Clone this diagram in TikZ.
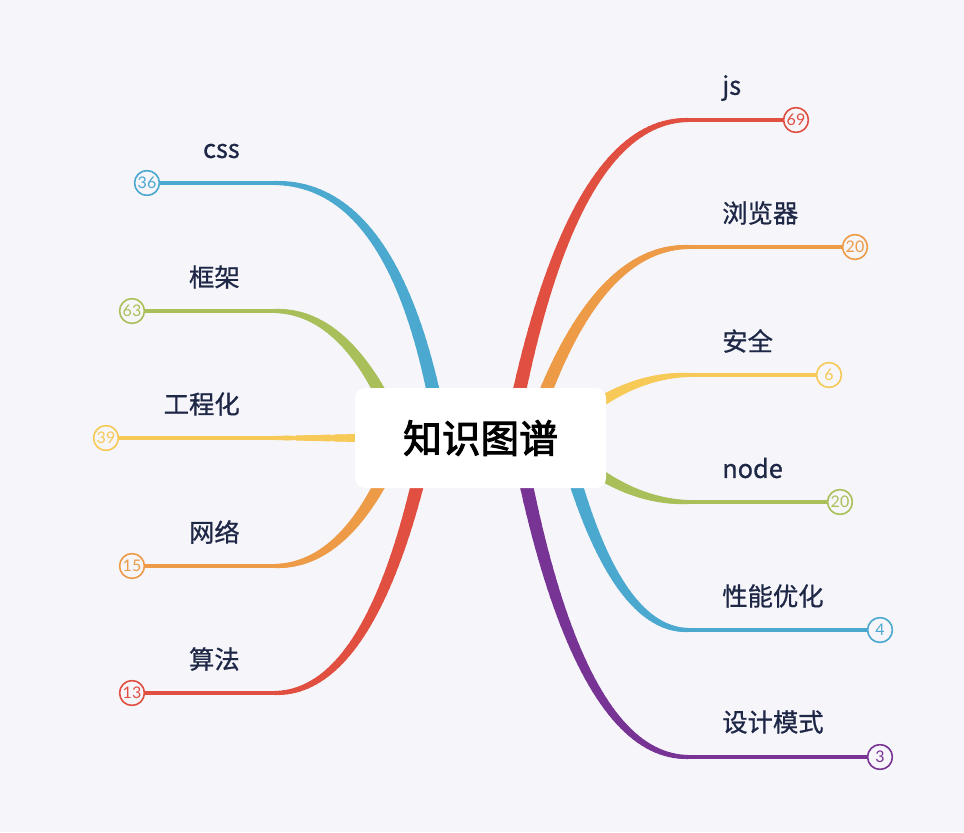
\documentclass[tikz,border=0pt]{standalone}
\usepackage{fontspec}
\setmainfont{Noto Sans CJK SC}
\newfontfamily\numfont{Lato}
\newfontfamily\lblfont{Noto Sans CJK SC}[FakeBold=0.8]
\newfontfamily\rootfont{Noto Sans CJK SC}[FakeBold=2.6]
\usetikzlibrary{calc}
\definecolor{bg}{HTML}{F5F5FA}
\definecolor{cred}{HTML}{E14F41}
\definecolor{corange}{HTML}{EE9B47}
\definecolor{cyellow}{HTML}{F7C957}
\definecolor{cgreen}{HTML}{A9C05A}
\definecolor{cblue}{HTML}{4BA8CF}
\definecolor{cpurple}{HTML}{783494}
\definecolor{labelc}{HTML}{1E2745}
\tikzset{
  lbl/.style={text=labelc, font=\lblfont\fontsize{19}{22}\selectfont, inner sep=0pt},
  numc/.style={circle, draw=#1, fill=bg, line width=1.1pt, minimum size=18.5pt,
    inner sep=0pt, text=#1, font=\numfont\fontsize{12}{14}\selectfont},
  thinline/.style={draw=#1, line width=2.4pt},
  rootbox/.style={fill=white, rounded corners=7.5pt, minimum width=188.25pt,
    minimum height=75pt, inner sep=0pt, font=\rootfont\fontsize{29}{32}\selectfont}
}
\newcommand{\taper}[2]{%
  \foreach \i in {0,...,47}{%
    \pgfmathsetmacro\ta{\i/48}%
    \pgfmathsetmacro\tb{(\i+1)/48}%
    \pgfmathsetmacro\fa{(1-\ta)^2}%
    \pgfmathsetmacro\fb{2*\ta*(1-\ta)}%
    \pgfmathsetmacro\fc{\ta^2}%
    \pgfmathsetmacro\ga{(1-\tb)^2}%
    \pgfmathsetmacro\gb{2*\tb*(1-\tb)}%
    \pgfmathsetmacro\gc{\tb^2}%
    \pgfmathsetmacro\w{(14-10*(\i+0.5)/48)*0.75}%
    \draw[#2, line width=\w pt, line cap=round]
      ($\fa*(#1-s)+\fb*(#1-c)+\fc*(#1-e)$) --
      ($\ga*(#1-s)+\gb*(#1-c)+\gc*(#1-e)$);
  }%
}
\begin{document}
\begin{tikzpicture}[x=0.75pt,y=-0.75pt]
\fill[bg] (0,0) rectangle (964,832);
\useasboundingbox (0,0) rectangle (964,832);
% branch geometry: start, control, end
\coordinate (js-s) at (510,438);  \coordinate (js-c) at (569,120); \coordinate (js-e) at (688,120);
\coordinate (br-s) at (529,438);  \coordinate (br-c) at (591,247); \coordinate (br-e) at (688,247);
\coordinate (se-s) at (555,438);  \coordinate (se-c) at (620,375); \coordinate (se-e) at (688,375);
\coordinate (nd-s) at (555,438);  \coordinate (nd-c) at (620,502); \coordinate (nd-e) at (688,502);
\coordinate (pf-s) at (563,438);  \coordinate (pf-c) at (612,630); \coordinate (pf-e) at (688,630);
\coordinate (ds-s) at (517,438);  \coordinate (ds-c) at (576,757); \coordinate (ds-e) at (688,757);
\coordinate (cs-s) at (442,438);  \coordinate (cs-c) at (400,183); \coordinate (cs-e) at (275,183);
\coordinate (fw-s) at (401,438);  \coordinate (fw-c) at (351,311); \coordinate (fw-e) at (275,311);
\coordinate (en-s) at (480,438);  \coordinate (en-c) at (377,438); \coordinate (en-e) at (275,438);
\coordinate (nw-s) at (401,438);  \coordinate (nw-c) at (351,566); \coordinate (nw-e) at (275,566);
\coordinate (al-s) at (428,438);  \coordinate (al-c) at (375,693); \coordinate (al-e) at (275,693);
% leaf circles
\node[numc=cred]    (js-n) at (796,120) {69};
\node[numc=corange] (br-n) at (855,247) {20};
\node[numc=cyellow] (se-n) at (829,375) {6};
\node[numc=cgreen]  (nd-n) at (840,502) {20};
\node[numc=cblue]   (pf-n) at (880,630) {4};
\node[numc=cpurple] (ds-n) at (880,757) {3};
\node[numc=cblue]   (cs-n) at (147,183) {36};
\node[numc=cgreen]  (fw-n) at (132,311) {63};
\node[numc=cyellow] (en-n) at (106,438) {39};
\node[numc=corange] (nw-n) at (132,566) {15};
\node[numc=cred]    (al-n) at (132,693) {13};
% tapered branches
\taper{js}{cred}
\taper{br}{corange}
\taper{se}{cyellow}
\taper{nd}{cgreen}
\taper{pf}{cblue}
\taper{ds}{cpurple}
\taper{cs}{cblue}
\taper{fw}{cgreen}
\taper{en}{cyellow}
\taper{nw}{corange}
\taper{al}{cred}
% thin lines to circles
\draw[thinline=cred]    (js-e) -- (js-n);
\draw[thinline=corange] (br-e) -- (br-n);
\draw[thinline=cyellow] (se-e) -- (se-n);
\draw[thinline=cgreen]  (nd-e) -- (nd-n);
\draw[thinline=cblue]   (pf-e) -- (pf-n);
\draw[thinline=cpurple] (ds-e) -- (ds-n);
\draw[thinline=cblue]   (cs-e) -- (cs-n);
\draw[thinline=cgreen]  (fw-e) -- (fw-n);
\draw[thinline=cyellow] (en-e) -- (en-n);
\draw[thinline=corange] (nw-e) -- (nw-n);
\draw[thinline=cred]    (al-e) -- (al-n);
% redraw circles on top
\node[numc=cred]    at (js-n) {69};
\node[numc=corange] at (br-n) {20};
\node[numc=cyellow] at (se-n) {6};
\node[numc=cgreen]  at (nd-n) {20};
\node[numc=cblue]   at (pf-n) {4};
\node[numc=cpurple] at (ds-n) {3};
\node[numc=cblue]   at (cs-n) {36};
\node[numc=cgreen]  at (fw-n) {63};
\node[numc=cyellow] at (en-n) {39};
\node[numc=corange] at (nw-n) {15};
\node[numc=cred]    at (al-n) {13};
% root
\node[rootbox] (root) at (480.5,438) {知识图谱};
% labels
\node[lbl, anchor=west] (js-l) at (722,88)  {js};
\node[lbl, anchor=west] (br-l) at (722,213) {浏览器};
\node[lbl, anchor=west] (se-l) at (722,341) {安全};
\node[lbl, anchor=west] (nd-l) at (722,468) {node};
\node[lbl, anchor=west] (pf-l) at (722,596) {性能优化};
\node[lbl, anchor=west] (ds-l) at (722,722) {设计模式};
\node[lbl, anchor=east] (cs-l) at (240,151) {css};
\node[lbl, anchor=east] (fw-l) at (240,277) {框架};
\node[lbl, anchor=east] (en-l) at (240,404) {工程化};
\node[lbl, anchor=east] (nw-l) at (240,532) {网络};
\node[lbl, anchor=east] (al-l) at (240,659) {算法};
\end{tikzpicture}
\end{document}
